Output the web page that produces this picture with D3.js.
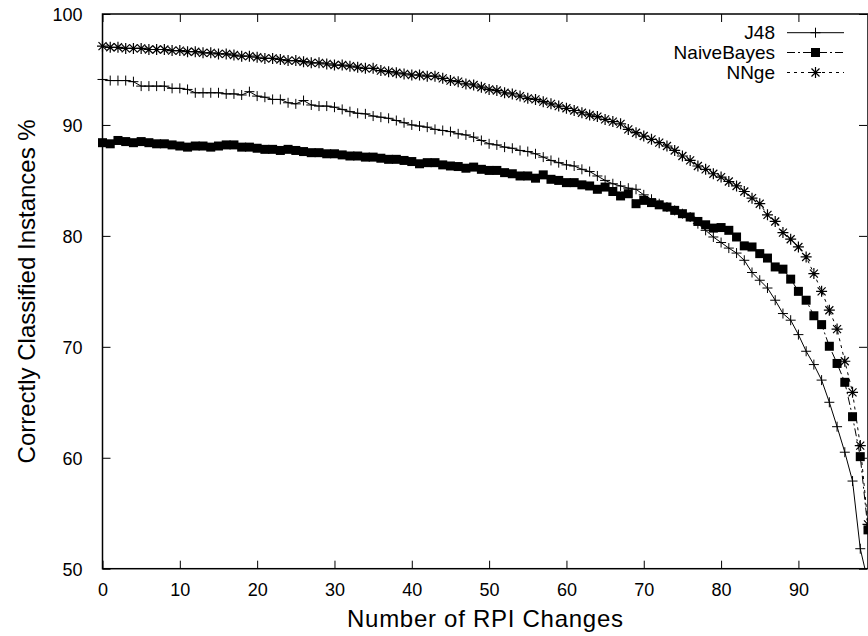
<!DOCTYPE html>
<html>
<head>
<meta charset="utf-8">
<script src="https://cdn.jsdelivr.net/npm/d3@7"></script>
<style>
  body { margin: 0; background: #fff; }
  text { font-family: "Liberation Sans", Arial, Helvetica, sans-serif; fill: #000; }
</style>
</head>
<body>
<div id="chart"></div>
<script>
// values, one per RPI change count 0..99
const xTicks = [0, 10, 20, 30, 40, 50, 60, 70, 80, 90];
const yTicks = [50, 60, 70, 80, 90, 100];

const j48 = [
  94.1, 94.0, 94.0, 94.0, 93.9, 93.5, 93.5, 93.5, 93.5, 93.3,
  93.3, 93.2, 92.9, 92.9, 92.9, 92.9, 92.8, 92.8, 92.7, 93.0,
  92.6, 92.5, 92.3, 92.3, 92.0, 91.9, 92.2, 91.8, 91.7, 91.7,
  91.6, 91.4, 91.2, 91.05, 91.0, 90.8, 90.7, 90.6, 90.4, 90.2,
  90.0, 89.9, 89.8, 89.6, 89.5, 89.4, 89.2, 89.1, 88.9, 88.6,
  88.3, 88.2, 88.0, 87.9, 87.7, 87.6, 87.4, 87.1, 86.8, 86.6,
  86.4, 86.3, 86.0, 85.8, 85.4, 85.0, 84.7, 84.5, 84.3, 84.2,
  83.7, 83.3, 82.9, 82.6, 82.3, 82.0, 81.7, 81.1, 80.5, 79.9,
  79.4, 78.9, 78.45, 77.8, 76.7, 76.0, 75.3, 74.2, 73.0, 72.4,
  71.1, 69.6, 68.4, 67.0, 65.0, 62.8, 60.5, 57.9, 51.8, 48.8
];

const naiveBayes = [
  88.4, 88.3, 88.6, 88.5, 88.4, 88.5, 88.4, 88.3, 88.3, 88.2,
  88.1, 88.0, 88.1, 88.1, 88.0, 88.1, 88.2, 88.2, 88.0, 88.0,
  87.9, 87.8, 87.8, 87.7, 87.8, 87.7, 87.6, 87.5, 87.5, 87.4,
  87.4, 87.3, 87.2, 87.2, 87.1, 87.1, 87.0, 86.9, 86.9, 86.8,
  86.7, 86.5, 86.6, 86.6, 86.4, 86.3, 86.25, 86.1, 86.2, 86.0,
  85.9, 85.9, 85.7, 85.6, 85.4, 85.4, 85.2, 85.5, 85.1, 85.0,
  84.8, 84.8, 84.6, 84.5, 84.2, 84.4, 84.0, 83.6, 83.8, 82.9,
  83.2, 83.0, 82.8, 82.6, 82.3, 82.0, 81.7, 81.3, 81.0, 80.7,
  80.75, 80.5, 79.9, 79.1, 79.0, 78.4, 78.0, 77.2, 77.0, 76.1,
  75.0, 74.2, 72.8, 72.0, 70.05, 68.5, 66.8, 63.7, 60.1, 53.5
];

const nnge = [
  97.1, 97.0, 97.0, 96.9, 96.9, 96.9, 96.8, 96.8, 96.8, 96.7,
  96.7, 96.6, 96.6, 96.5, 96.5, 96.4, 96.4, 96.3, 96.2, 96.2,
  96.1, 96.0, 96.0, 95.9, 95.8, 95.8, 95.7, 95.6, 95.6, 95.5,
  95.4, 95.4, 95.3, 95.2, 95.1, 95.1, 94.9, 94.8, 94.7, 94.6,
  94.5, 94.5, 94.4, 94.4, 94.2, 94.0, 93.9, 93.7, 93.6, 93.4,
  93.2, 93.1, 92.9, 92.8, 92.6, 92.4, 92.3, 92.1, 91.9, 91.7,
  91.5, 91.3, 91.1, 90.9, 90.75, 90.5, 90.3, 90.1, 89.6, 89.3,
  89.0, 88.7, 88.4, 88.1, 87.7, 87.2, 86.8, 86.3, 86.0, 85.6,
  85.3, 84.9, 84.5, 84.0, 83.4, 82.9, 81.9, 81.3, 80.3, 79.7,
  79.0, 78.1, 76.6, 75.0, 73.3, 71.6, 68.7, 65.9, 61.1, 54.0
];

const seriesNames = ["J48", "NaiveBayes", "NNge"];

(function () {
  const width = 868, height = 636;
  const margin = { top: 14, right: 0, bottom: 67.3, left: 102.5 };

  const svg = d3.select("#chart").append("svg")
    .attr("width", width)
    .attr("height", height);

  const x = d3.scaleLinear().domain([0, 99]).range([margin.left, width - margin.right]);
  const y = d3.scaleLinear().domain([50, 100]).range([height - margin.bottom, margin.top]);

  const [x0, x1] = x.range();
  const [yb, yt] = y.range();

  svg.append("clipPath").attr("id", "plot-clip")
    .append("rect")
    .attr("x", x0).attr("y", yt)
    .attr("width", x1 - x0).attr("height", yb - yt);

  // axes: gnuplot style, ticks pointing inward, mirrored on top/right
  const tickLen = 8;
  const axisFont = 18;

  const xBottom = svg.append("g").attr("transform", `translate(0,${yb})`)
    .call(d3.axisBottom(x).tickValues(xTicks).tickSize(-tickLen).tickPadding(tickLen + 7).tickSizeOuter(0));
  const xTop = svg.append("g").attr("transform", `translate(0,${yt})`)
    .call(d3.axisTop(x).tickValues(xTicks).tickSize(-tickLen).tickFormat("").tickSizeOuter(0));
  const yLeft = svg.append("g").attr("transform", `translate(${x0},0)`)
    .call(d3.axisLeft(y).tickValues(yTicks).tickSize(-tickLen).tickPadding(tickLen + 12).tickSizeOuter(0));
  const yRight = svg.append("g").attr("transform", `translate(${x1 - 1},0)`)
    .call(d3.axisRight(y).tickValues(yTicks).tickSize(-tickLen).tickFormat("").tickSizeOuter(0));

  [xBottom, xTop, yLeft, yRight].forEach(g => {
    g.select(".domain").remove();
    g.selectAll(".tick line").attr("stroke", "#000").attr("stroke-width", 1);
    g.selectAll(".tick text")
      .attr("font-size", axisFont)
      .attr("font-family", "'Liberation Sans', Arial, sans-serif")
      .attr("fill", "#000");
  });
  yLeft.selectAll(".tick text").attr("dy", "0.36em");

  // border
  svg.append("rect")
    .attr("x", x0).attr("y", yt)
    .attr("width", x1 - x0).attr("height", yb - yt)
    .attr("fill", "none")
    .attr("stroke", "#000")
    .attr("stroke-width", 1.5);

  // axis titles
  svg.append("text")
    .attr("x", 485).attr("y", 627)
    .attr("text-anchor", "middle")
    .attr("font-size", 24)
    .attr("textLength", 276)
    .text("Number of RPI Changes");

  svg.append("text")
    .attr("transform", `translate(35,${(yt + yb) / 2}) rotate(-90)`)
    .attr("text-anchor", "middle")
    .attr("font-size", 24)
    .text("Correctly Classified Instances %");

  // marker shapes
  const plusPath = "M-5,0H5M0,-5V5";
  const starPath = "M-5.5,0H5.5M0,-5.5V5.5M-4,-4L4,4M-4,4L4,-4";

  const series = [
    { name: seriesNames[0], values: j48, dash: null, marker: "plus" },
    { name: seriesNames[1], values: naiveBayes, dash: "8,3,2,3", marker: "square" },
    { name: seriesNames[2], values: nnge, dash: "3,4", marker: "star" }
  ];

  const line = d3.line().x((d, i) => x(i)).y(d => y(d));

  function drawMarker(g, kind) {
    if (kind === "square") {
      g.append("rect").attr("x", -4.5).attr("y", -4.5).attr("width", 9).attr("height", 9).attr("fill", "#000");
    } else {
      g.append("path").attr("d", kind === "plus" ? plusPath : starPath)
        .attr("stroke", "#000").attr("stroke-width", kind === "star" ? 1.2 : 1).attr("fill", "none");
    }
  }

  const plot = svg.append("g");

  series.forEach(s => {
    plot.append("path")
      .datum(s.values)
      .attr("clip-path", "url(#plot-clip)")
      .attr("d", line)
      .attr("fill", "none")
      .attr("stroke", "#000")
      .attr("stroke-width", 1)
      .attr("stroke-dasharray", s.dash);

    plot.append("g").selectAll("g")
      .data(s.values.map((v, i) => ({ i, v })).filter(d => d.v >= 50))
      .join("g")
      .attr("transform", d => `translate(${x(d.i)},${y(d.v)})`)
      .each(function () { drawMarker(d3.select(this), s.marker); });
  });

  // legend
  const legend = svg.append("g");
  const legendRows = [32.7, 52.5, 72.5];
  series.forEach((s, k) => {
    const ly = legendRows[k];
    legend.append("text")
      .attr("x", 775).attr("y", ly)
      .attr("dy", "0.35em")
      .attr("text-anchor", "end")
      .attr("font-size", 19)
      .text(s.name);
    legend.append("line")
      .attr("x1", 787).attr("x2", 844)
      .attr("y1", ly).attr("y2", ly)
      .attr("stroke", "#000")
      .attr("stroke-width", 1)
      .attr("stroke-dasharray", s.dash);
    const m = legend.append("g").attr("transform", `translate(815.5,${ly})`);
    drawMarker(m, s.marker);
  });
})();
</script>
</body>
</html>
